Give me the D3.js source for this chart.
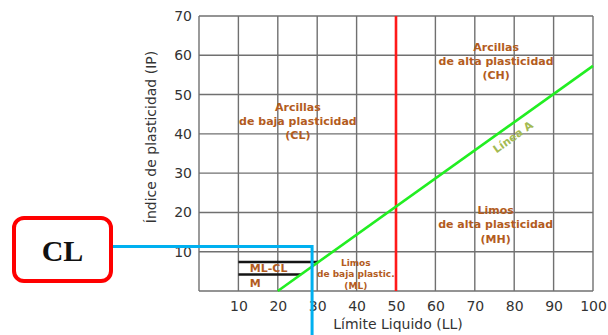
<!DOCTYPE html>
<html><head><meta charset="utf-8">
<script src="https://cdn.jsdelivr.net/npm/d3@7"></script>
<style>body{margin:0;background:#fff}svg{display:block}</style>
</head><body>
<svg id="c" width="608" height="335"></svg>
<script>
// ---- data ----
const xTicks = [10,20,30,40,50,60,70,80,90,100];
const yTicks = [10,20,30,40,50,60,70];
const gridX = [0,10,20,30,40,50,60,70,80,90,100];
const gridY = [0,10,20,30,40,50,60,70];
const lineA = [[20,0],[100,57.3]];          // Línea A
const lineB = [[50,0],[50,70]];             // LL = 50
const mlclTop = [[10,7.4],[30.3,7.4]];
const mlclBot = [[10,4.2],[25.9,4.2]];
const bluePoint = [28.7, 11.3];
const zoneLabels = [
  {lines:["Arcillas","de baja plasticidad","(CL)"], ll:25.1, ip:45.8, size:11, lh:14, anchor:"middle"},
  {lines:["Arcillas","de alta plasticidad","(CH)"], ll:75.4, ip:61.1, size:11, lh:14, anchor:"middle"},
  {lines:["Limos","de alta plasticidad","(MH)"], ll:75.3, ip:19.6, size:11, lh:14.3, anchor:"middle"},
  {lines:["Limos","de baja plastic.","(ML)"], ll:39.8, ip:6.4, size:9, lh:11.6, anchor:"middle"},
  {lines:["ML-CL"], ll:12.9, ip:4.9, size:11, lh:14, anchor:"start"},
  {lines:["M"], ll:12.9, ip:0.9, size:11, lh:14, anchor:"start"}
];
const lineALabel = {text:"Línea A", ll:79.7, ip:39.2};
const boxText = "CL";

// ---- chart ----
const svg = d3.select("#c");
const x = d3.scaleLinear().domain([0,100]).range([199,593]);
const y = d3.scaleLinear().domain([0,70]).range([291,16]);
const line = d3.line().x(d=>x(d[0])).y(d=>y(d[1]));

// grid
svg.append("g").selectAll("line").data(gridX).join("line")
  .attr("x1",d=>x(d)).attr("x2",d=>x(d)).attr("y1",y(0)).attr("y2",y(70))
  .attr("stroke","#707070").attr("stroke-width",1.4);
svg.append("g").selectAll("line").data(gridY).join("line")
  .attr("y1",d=>y(d)).attr("y2",d=>y(d)).attr("x1",x(0)).attr("x2",x(100))
  .attr("stroke","#707070").attr("stroke-width",1.4);

// axes
const font = "DejaVu Sans, Verdana, sans-serif";
const ax = svg.append("g").attr("transform",`translate(0,${y(0)})`)
  .call(d3.axisBottom(x).tickValues(xTicks).tickSize(0).tickPadding(10));
const ay = svg.append("g").attr("transform",`translate(${x(0)},0)`)
  .call(d3.axisLeft(y).tickValues(yTicks).tickSize(0).tickPadding(7));
[ax,ay].forEach(a=>{
  a.select(".domain").remove();
  a.selectAll("text").attr("font-family",font).attr("font-size",14).attr("fill","#333");
});

svg.append("text").attr("x",398).attr("y",329).attr("text-anchor","middle")
  .attr("font-family",font).attr("font-size",14).attr("fill","#333")
  .text("Límite Liquido (LL)");
svg.append("text").attr("transform","translate(156,137) rotate(-90)").attr("text-anchor","middle")
  .attr("font-family",font).attr("font-size",14).attr("fill","#333")
  .text("Índice de plasticidad (IP)");

// lines
svg.append("path").attr("d",line(mlclTop)).attr("stroke","#151515").attr("stroke-width",2.6).attr("fill","none");
svg.append("path").attr("d",line(mlclBot)).attr("stroke","#151515").attr("stroke-width",2.6).attr("fill","none");
svg.append("path").attr("d",line(lineB)).attr("stroke","#ff1a1a").attr("stroke-width",2.6).attr("fill","none");
svg.append("path").attr("d",line(lineA)).attr("stroke","#22ee22").attr("stroke-width",2.6).attr("fill","none");

// zone labels
const brown = "#b35c1e";
zoneLabels.forEach(z=>{
  const t = svg.append("text").attr("text-anchor",z.anchor)
    .attr("font-family",font).attr("font-weight","bold").attr("font-size",z.size).attr("fill",brown);
  z.lines.forEach((s,i)=>{
    t.append("tspan").attr("x",x(z.ll)).attr("y",y(z.ip)+i*z.lh).text(s);
  });
});
const ang = Math.atan2(y(lineA[1][1])-y(lineA[0][1]), x(lineA[1][0])-x(lineA[0][0]))*180/Math.PI;
svg.append("text").attr("transform",`translate(${x(lineALabel.ll)},${y(lineALabel.ip)}) rotate(${ang})`)
  .attr("text-anchor","middle").attr("dy","0.35em")
  .attr("font-family",font).attr("font-weight","bold").attr("font-size",11).attr("fill","#a3ba52")
  .text(lineALabel.text);

// blue annotation
const bx = x(bluePoint[0]), by = y(bluePoint[1]);
svg.append("path").attr("d",`M111,${by}H${bx}V335`).attr("stroke","#00b0f0").attr("stroke-width",3).attr("fill","none");

// CL box
svg.append("rect").attr("x",14).attr("y",218).attr("width",97).attr("height",63).attr("rx",10)
  .attr("fill","#fff").attr("stroke","#ff0000").attr("stroke-width",4);
svg.append("text").attr("x",62.5).attr("y",261).attr("text-anchor","middle")
  .attr("font-family","Liberation Serif, Times New Roman, serif").attr("font-weight","bold").attr("font-size",30).attr("fill","#111")
  .text(boxText);
</script>
</body></html>
